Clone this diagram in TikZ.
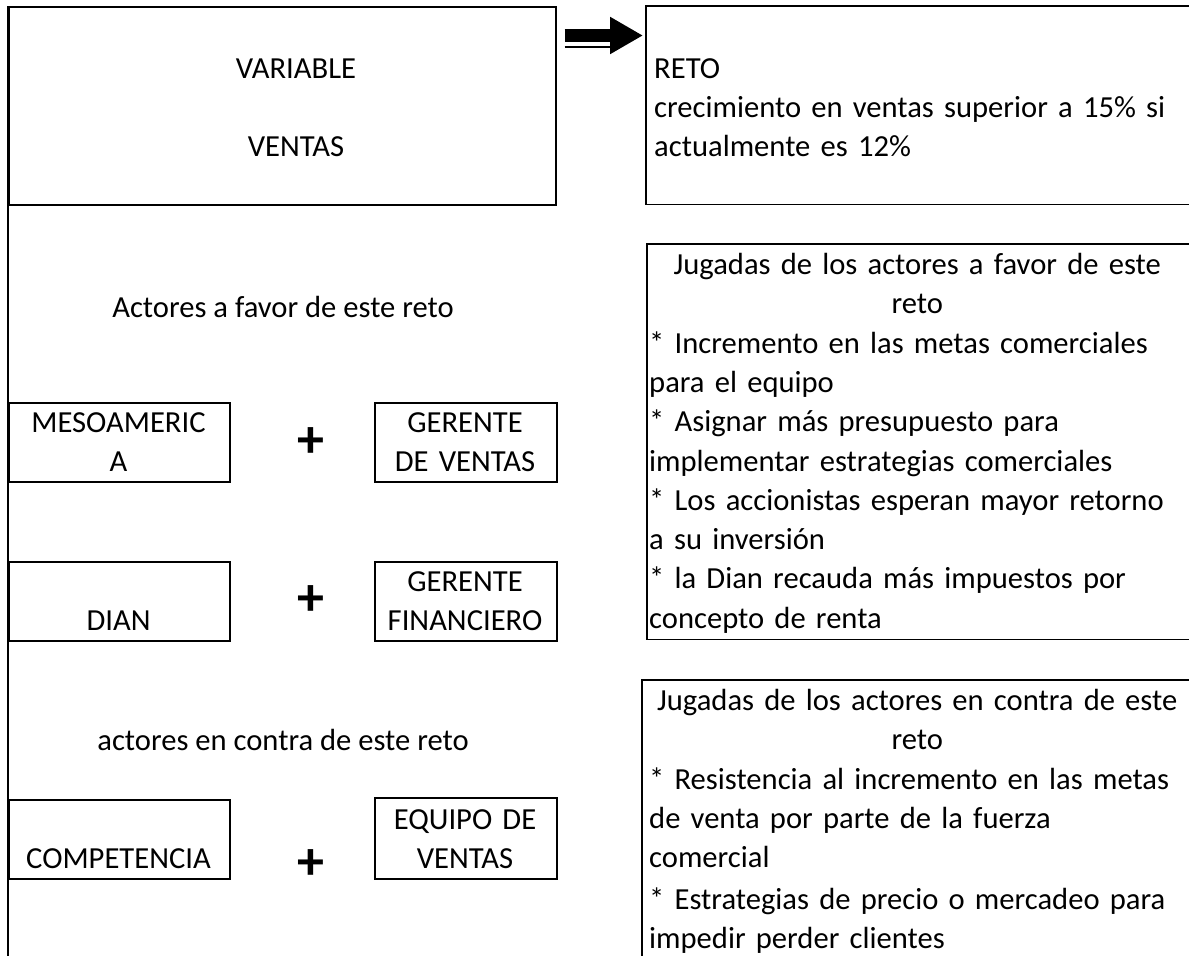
\documentclass[tikz,border=0pt]{standalone}
\usepackage{fontspec}
\setmainfont{Carlito}
\usetikzlibrary{arrows.meta,calc}
\begin{document}
\begin{tikzpicture}[x=1pt,y=-1pt,
  rule/.style={line width=1.6pt},
  cellbox/.style={rule, draw, inner sep=0, anchor=north west, rectangle},
  region/.style={inner sep=0, anchor=north west, rectangle},
  txt/.style={inner sep=0, font=\fontsize{30.6}{39.3}\selectfont},
  plussign/.style={inner sep=0, font=\fontsize{54}{58}\selectfont\bfseries},
  bigarrow/.style={line width=13pt, -{Triangle[length=33pt,width=35pt]}},
]
\useasboundingbox (0,0) rectangle (1189,956);
% left column boxes
\node[cellbox, minimum width=547, minimum height=198] (var) at (8,6) {};
\node[cellbox, minimum width=221, minimum height=79] (meso) at (8,402) {};
\node[cellbox, minimum width=182, minimum height=79] (gv) at (374,402) {};
\node[cellbox, minimum width=221, minimum height=79] (dian) at (8,561) {};
\node[cellbox, minimum width=182, minimum height=79] (gf) at (374,561) {};
\node[cellbox, minimum width=221, minimum height=79] (comp) at (8,799) {};
\node[cellbox, minimum width=182, minimum height=81] (eq) at (374,797) {};
\coordinate (bottomleft) at (8,956);
\draw[rule] (var.north west) -- (bottomleft);
% right column regions (open on the right)
\node[region, minimum width=543, minimum height=198] (reto) at (646,6) {};
\node[region, minimum width=542, minimum height=395] (favor) at (647,244) {};
\node[region, minimum width=547, minimum height=276] (contra) at (642,680) {};
\draw[rule] (reto.north east) -- (reto.north west) -- (reto.south west) -- (reto.south east);
\draw[rule] (favor.north east) -- (favor.north west) -- (favor.south west) -- (favor.south east);
\draw[rule] (contra.north east) -- (contra.north west) -- (contra.south west);
% arrow
\draw[bigarrow] ($(var.north east)+(8,29.5)$) -- ($(reto.north west)+(-3,29.5)$);
\draw[line width=1.3pt] ($(var.north east)+(8,41)$) -- ($(var.north east)+(55,41)$);
% texts
\node[txt, text width=300, anchor=base] (varT) at (296,78) {\centering VARIABLE\\[39.3pt]VENTAS\par};
\node[txt, text width=530, anchor=base west] (retoT) at (654,78) {\raggedright RETO\\ crecimiento en ventas superior a 15\% si\\ actualmente es 12\%\par};
\node[txt, anchor=base] (afavor) at (283,317) {Actores a favor de este reto};
\node[txt, anchor=base] (encontra) at (283,750) {actores en contra de este reto};
\node[txt, text width=210, anchor=base] (mesoT) at (118.5,432.5) {\centering MESOAMERIC\\ A\par};
\node[txt, text width=180, anchor=base] (gvT) at (465,432.5) {\centering GERENTE\\ DE VENTAS\par};
\node[txt, anchor=base] (dianT) at (118.5,630.6) {DIAN};
\node[txt, text width=180, anchor=base] (gfT) at (465,591.5) {\centering GERENTE\\ FINANCIERO\par};
\node[txt, anchor=base] (compT) at (118.5,868.6) {COMPETENCIA};
\node[txt, text width=180, anchor=base] (eqT) at (465,829) {\centering EQUIPO DE\\ VENTAS\par};
\node[plussign] (p1) at (311,443) {+};
\node[plussign] (p2) at (311,601) {+};
\node[plussign] (p3) at (311,865) {+};
\node[txt, text width=536, anchor=base west] (favorT) at (649,274.5) {\centering Jugadas de los actores a favor de este\\ reto\par
\raggedright * Incremento en las metas comerciales\\ para el equipo\\{}* Asignar más presupuesto para\\ implementar estrategias comerciales\\{}* Los accionistas esperan mayor retorno\\ a su inversión\\{}* la Dian recauda más impuestos por\\ concepto de renta\par};
\node[txt, text width=536, anchor=base west] (contraT) at (649,710.5) {\centering Jugadas de los actores en contra de este\\ reto\par
\raggedright * Resistencia al incremento en las metas\\ de venta por parte de la fuerza\\ comercial\\[2pt]{}* Estrategias de precio o mercadeo para\\ impedir perder clientes\par};
\end{tikzpicture}
\end{document}
